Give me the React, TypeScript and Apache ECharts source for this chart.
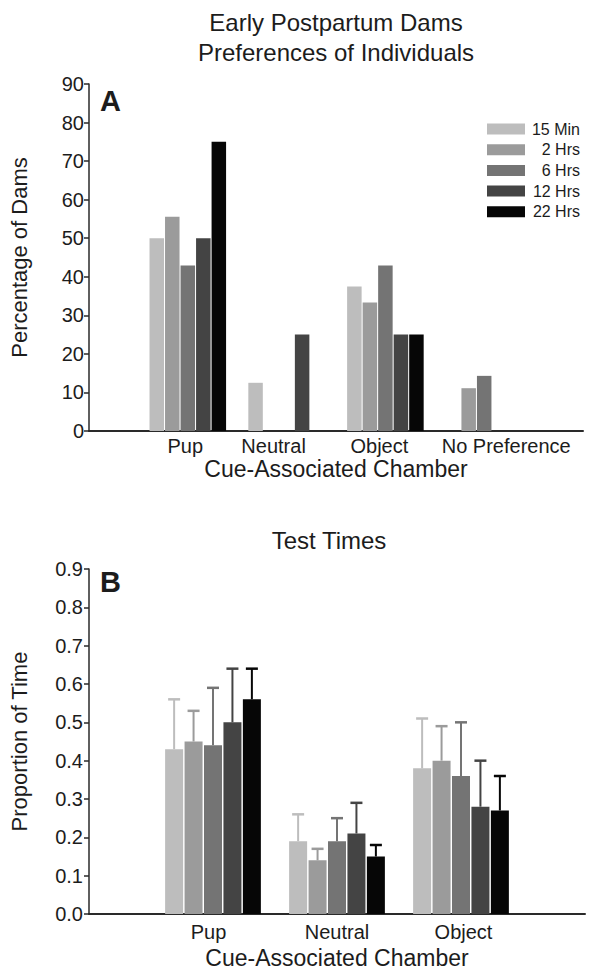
import React, { useEffect, useRef } from "react";
import * as echarts from "echarts";

// ---------- data ----------
const seriesNames = ["15 Min", "2 Hrs", "6 Hrs", "12 Hrs", "22 Hrs"];
const seriesColors = ["#bdbdbd", "#9b9b9b", "#747474", "#444444", "#060606"];

// Panel A: percentage of dams (Pup, Neutral, Object, No Preference)
const categoriesA = ["", "Pup", "Neutral", "Object", "No Preference", ""];
const pctMin15 = [50, 12.5, 37.5, 0];
const pctHrs2 = [55.6, 0, 33.3, 11.1];
const pctHrs6 = [42.9, 0, 42.9, 14.3];
const pctHrs12 = [50, 25, 25, 0];
const pctHrs22 = [75, 0, 25, 0];
const yTicksA = { min: 0, max: 90, interval: 10 };

// Panel B: proportion of time (Pup, Neutral, Object), mean and upper error
const categoriesB = ["", "Pup", "Neutral", "Object", ""];
const meanMin15 = [0.43, 0.19, 0.38];
const upperMin15 = [0.56, 0.26, 0.51];
const meanHrs2 = [0.45, 0.14, 0.4];
const upperHrs2 = [0.53, 0.17, 0.49];
const meanHrs6 = [0.44, 0.19, 0.36];
const upperHrs6 = [0.59, 0.25, 0.5];
const meanHrs12 = [0.5, 0.21, 0.28];
const upperHrs12 = [0.64, 0.29, 0.4];
const meanHrs22 = [0.56, 0.15, 0.27];
const upperHrs22 = [0.64, 0.18, 0.36];
const yTicksB = { min: 0, max: 0.9, interval: 0.1 };

const pctA = [pctMin15, pctHrs2, pctHrs6, pctHrs12, pctHrs22];
const meansB = [meanMin15, meanHrs2, meanHrs6, meanHrs12, meanHrs22];
const uppersB = [upperMin15, upperHrs2, upperHrs6, upperHrs12, upperHrs22];

// ---------- style ----------
const FONT = "'Liberation Sans', Arial, Helvetica, sans-serif";
const TEXT = "#1c1c1c";
const AXIS = "#2a2a2a";
const BAR_W_A = 14.5;
const GAP_A = 0.07;
const BAR_W_B = 18;
const GAP_B = 0.08;

const labelShiftA: Record<string, string> = {
  Pup: "p",
  Neutral: "n",
  Object: "o",
  "No Preference": "q",
};
const labelShiftB: Record<string, string> = {
  Pup: "p",
  Neutral: "n",
  Object: "o",
};

function pad(arr: number[]) {
  return [null, ...arr, null];
}

export default function App() {
  const ref = useRef<HTMLDivElement>(null);

  useEffect(() => {
    if (!ref.current) return;
    const chart = echarts.init(ref.current, undefined, { renderer: "svg" });

    const baseLabel = { fontFamily: FONT, fontSize: 20, color: TEXT };

    const barSeriesA = seriesNames.map((name, i) => ({
      name,
      type: "bar",
      xAxisIndex: 0,
      yAxisIndex: 0,
      barWidth: BAR_W_A,
      barGap: `${GAP_A * 100}%`,
      itemStyle: { color: seriesColors[i] },
      data: pad(pctA[i]),
    }));

    const barSeriesB = seriesNames.map((name, i) => ({
      name,
      type: "bar",
      xAxisIndex: 1,
      yAxisIndex: 1,
      barWidth: BAR_W_B,
      barGap: `${GAP_B * 100}%`,
      itemStyle: { color: seriesColors[i] },
      data: pad(meansB[i]),
    }));

    const errSeriesB = seriesNames.map((name, i) => {
      const step = BAR_W_B * (1 + GAP_B);
      const offset = (i - 2) * step;
      const color = seriesColors[i];
      return {
        name: name + " error",
        type: "custom",
        xAxisIndex: 1,
        yAxisIndex: 1,
        z: 3,
        encode: { x: 0, y: [1, 2] },
        data: meansB[i].map((m, k) => [k + 1, m, uppersB[i][k]]),
        renderItem: (_params: any, api: any) => {
          const cat = api.value(0);
          const base = api.coord([cat, api.value(1)]);
          const top = api.coord([cat, api.value(2)]);
          const x = base[0] + offset;
          return {
            type: "group",
            children: [
              {
                type: "line",
                shape: { x1: x, y1: base[1], x2: x, y2: top[1] },
                style: { stroke: color, lineWidth: 2 },
              },
              {
                type: "line",
                shape: { x1: x - 6, y1: top[1], x2: x + 6, y2: top[1] },
                style: { stroke: color, lineWidth: 2.5 },
              },
            ],
          };
        },
      };
    });

    const titleStyle = {
      fontFamily: FONT,
      fontSize: 24,
      fontWeight: "normal",
      color: TEXT,
      lineHeight: 30,
    };

    const option: any = {
      animation: false,
      backgroundColor: "#ffffff",
      title: [
        {
          text: "Early Postpartum Dams\nPreferences of Individuals",
          left: 336,
          top: 7,
          padding: 0,
          textAlign: "center",
          textStyle: titleStyle,
        },
        {
          text: "Test Times",
          left: 329,
          top: 525,
          padding: 0,
          textAlign: "center",
          textStyle: titleStyle,
        },
      ],
      legend: {
        data: seriesNames,
        orient: "vertical",
        left: 487,
        top: 121,
        padding: 0,
        itemWidth: 38,
        itemHeight: 11,
        itemGap: 4.7,
        icon: "rect",
        selectedMode: false,
        formatter: (name: string) => `{a|${name}}`,
        textStyle: {
          rich: {
            a: {
              width: 50,
              align: "right",
              fontFamily: FONT,
              fontSize: 16,
              color: TEXT,
            },
          },
        },
      },
      grid: [
        { left: 88, top: 84, width: 495, height: 347 },
        { left: 89, top: 569, width: 496, height: 345 },
      ],
      xAxis: [
        {
          type: "category",
          gridIndex: 0,
          data: categoriesA,
          boundaryGap: false,
          axisLine: { lineStyle: { color: AXIS, width: 2 } },
          axisTick: { show: false },
          splitLine: { show: false },
          axisLabel: {
            interval: 0,
            margin: 5,
            ...baseLabel,
            formatter: (v: string) => (labelShiftA[v] ? `{${labelShiftA[v]}|${v}}` : v),
            rich: {
              p: { ...baseLabel, padding: [0, 5, 0, 0] },
              n: { ...baseLabel, padding: [0, 26, 0, 0] },
              o: { ...baseLabel, padding: [0, 12, 0, 0] },
              q: { ...baseLabel, padding: [0, 0, 0, 44] },
            },
          },
          name: "Cue-Associated Chamber",
          nameLocation: "middle",
          nameGap: 26,
          nameTextStyle: { fontFamily: FONT, fontSize: 23, color: TEXT },
        },
        {
          type: "category",
          gridIndex: 1,
          data: categoriesB,
          boundaryGap: false,
          axisLine: { lineStyle: { color: AXIS, width: 2 } },
          axisTick: { show: false },
          splitLine: { show: false },
          axisLabel: {
            interval: 0,
            margin: 8,
            ...baseLabel,
            formatter: (v: string) => (labelShiftB[v] ? `{${labelShiftB[v]}|${v}}` : v),
            rich: {
              p: { ...baseLabel, padding: [0, 9, 0, 0] },
              n: { ...baseLabel, padding: [0, 0, 0, 0] },
              o: { ...baseLabel, padding: [0, 0, 0, 5] },
            },
          },
          name: "Cue-Associated Chamber",
          nameLocation: "middle",
          nameGap: 32,
          nameTextStyle: { fontFamily: FONT, fontSize: 23, color: TEXT },
        },
      ],
      yAxis: [
        {
          type: "value",
          gridIndex: 0,
          min: yTicksA.min,
          max: yTicksA.max,
          interval: yTicksA.interval,
          axisLine: { show: true, lineStyle: { color: AXIS, width: 1.5 } },
          axisTick: { show: true, length: 5, lineStyle: { color: AXIS, width: 1.5 } },
          splitLine: { show: false },
          axisLabel: { margin: 5, ...baseLabel },
          name: "Percentage of Dams",
          nameLocation: "middle",
          nameGap: 59,
          nameTextStyle: { fontFamily: FONT, fontSize: 22, color: TEXT },
        },
        {
          type: "value",
          gridIndex: 1,
          min: yTicksB.min,
          max: yTicksB.max,
          interval: yTicksB.interval,
          axisLine: { show: true, lineStyle: { color: AXIS, width: 1.5 } },
          axisTick: { show: true, length: 5, lineStyle: { color: AXIS, width: 1.5 } },
          splitLine: { show: false },
          axisLabel: {
            margin: 6,
            ...baseLabel,
            formatter: (v: number) => v.toFixed(1),
          },
          name: "Proportion of Time",
          nameLocation: "middle",
          nameGap: 59,
          nameTextStyle: { fontFamily: FONT, fontSize: 22, color: TEXT },
        },
      ],
      graphic: [
        {
          type: "text",
          left: 100,
          top: 86,
          style: {
            text: "A",
            font: `bold 29px ${FONT}`,
            fill: TEXT,
          },
        },
        {
          type: "text",
          left: 100,
          top: 567,
          style: {
            text: "B",
            font: `bold 29px ${FONT}`,
            fill: TEXT,
          },
        },
      ],
      series: [...barSeriesA, ...barSeriesB, ...errSeriesB],
    };

    chart.setOption(option);
    return () => chart.dispose();
  }, []);

  return (
    <div
      ref={ref}
      style={{ position: "fixed", left: 0, top: 0, width: 600, height: 971, background: "#fff" }}
    />
  );
}
